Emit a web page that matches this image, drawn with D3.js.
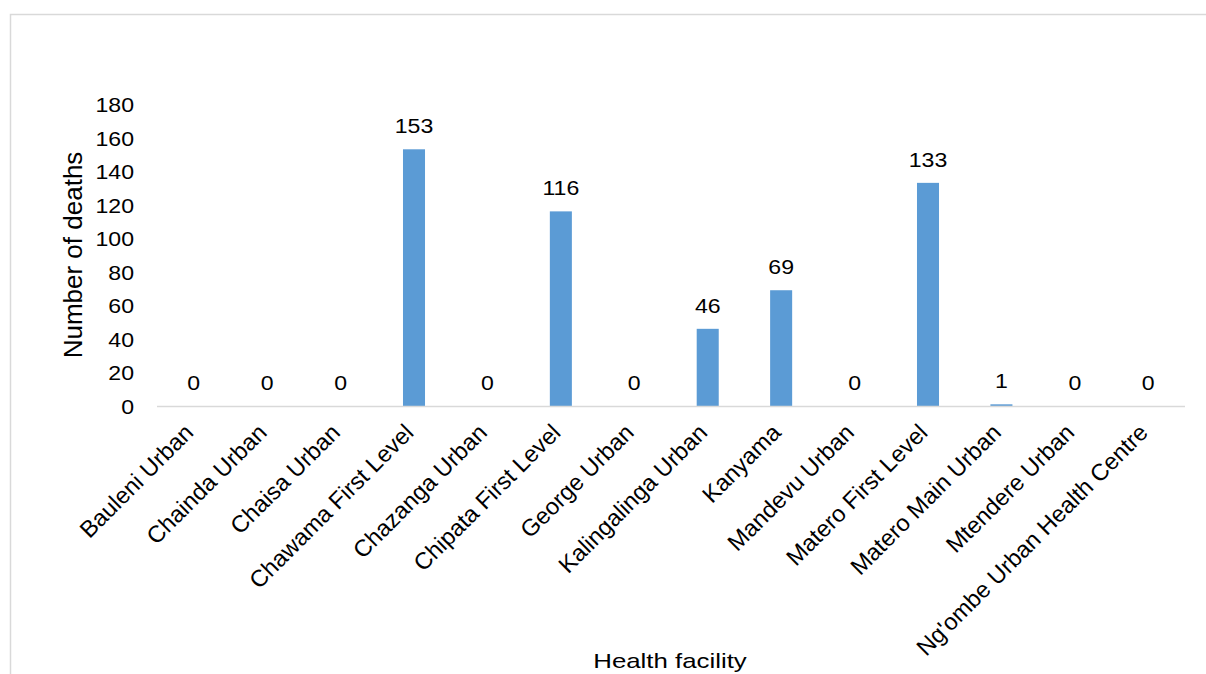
<!DOCTYPE html>
<html>
<head>
<meta charset="utf-8">
<script src="https://cdn.jsdelivr.net/npm/d3@7"></script>
<style>
    body { margin: 0; background: #fff; }
    svg text { font-family: "Liberation Sans", Arial, sans-serif; fill: #000; }
</style>
</head>
<body>
<div id="chart"></div>
<script>
// Chart data
const facilities = [
    "Bauleni Urban", "Chainda Urban", "Chaisa Urban", "Chawama First Level",
    "Chazanga Urban", "Chipata First Level", "George Urban", "Kalingalinga Urban",
    "Kanyama", "Mandevu Urban", "Matero First Level", "Matero Main Urban",
    "Mtendere Urban", "Ng'ombe Urban Health Centre"
];
const deaths = [0, 0, 0, 153, 0, 116, 0, 46, 69, 0, 133, 1, 0, 0];
const yTicks = [0, 20, 40, 60, 80, 100, 120, 140, 160, 180];

let width = 1206, height = 674;
let margin = {top: 104, right: 21, bottom: 268, left: 157};
let stretch = 1.1; // the original text is a bit wider than plain Arial

let svg = d3.select("#chart").append("svg")
    .attr("width", width)
    .attr("height", height);

// outer frame (only top and left edges visible)
svg.append("path")
    .attr("d", `M10.5,${height} V14.5 H${width}`)
    .attr("fill", "none")
    .attr("stroke", "#d9d9d9")
    .attr("stroke-width", 1.5);

let xScale = d3.scaleBand()
    .domain(facilities)
    .range([margin.left, width - margin.right])
    .paddingInner(0.7)
    .paddingOuter(0.35);

let yScale = d3.scaleLinear()
    .domain([0, 180])
    .range([height - margin.bottom, margin.top]);

let data = facilities.map((f, i) => ({name: f, value: deaths[i]}));

// bars
svg.selectAll(".bar")
    .data(data)
    .enter().append("rect")
    .attr("class", "bar")
    .attr("x", d => xScale(d.name))
    .attr("y", d => yScale(d.value))
    .attr("width", xScale.bandwidth())
    .attr("height", d => yScale(0) - yScale(d.value))
    .attr("fill", "#5b9bd5");

// x axis line
svg.append("line")
    .attr("x1", margin.left)
    .attr("x2", width - margin.right)
    .attr("y1", yScale(0) + 0.5)
    .attr("y2", yScale(0) + 0.5)
    .attr("stroke", "#d9d9d9")
    .attr("stroke-width", 1.5);

// y tick labels
svg.selectAll(".ytick")
    .data(yTicks)
    .enter().append("text")
    .attr("class", "ytick")
    .attr("text-anchor", "end")
    .attr("transform", d => `translate(134, ${yScale(d) + 8}) scale(${stretch}, 1)`)
    .style("font-size", "21px")
    .text(d => d);

// value labels
svg.selectAll(".value")
    .data(data)
    .enter().append("text")
    .attr("class", "value")
    .attr("text-anchor", "middle")
    .attr("transform", d => `translate(${xScale(d.name) + xScale.bandwidth() / 2}, ${yScale(d.value) - 16}) scale(${stretch}, 1)`)
    .style("font-size", "21px")
    .text(d => d.value);

// category labels, rotated
svg.selectAll(".xlab")
    .data(facilities)
    .enter().append("text")
    .attr("class", "xlab")
    .attr("text-anchor", "end")
    .attr("transform", d => {
        let cx = xScale(d) + xScale.bandwidth() / 2;
        return `translate(${cx + 1}, ${yScale(0) + 28}) rotate(-45)`;
    })
    .style("font-size", "23.5px")
    .text(d => d);

// axis titles
svg.append("text")
    .attr("transform", `translate(82, ${(yScale(0) + yScale(180)) / 2}) rotate(-90)`)
    .attr("text-anchor", "middle")
    .style("font-size", "26px")
    .text("Number of deaths");

svg.append("text")
    .attr("transform", `translate(670, 668) scale(1.23, 1)`)
    .attr("text-anchor", "middle")
    .style("font-size", "21px")
    .text("Health facility");
</script>
</body>
</html>
